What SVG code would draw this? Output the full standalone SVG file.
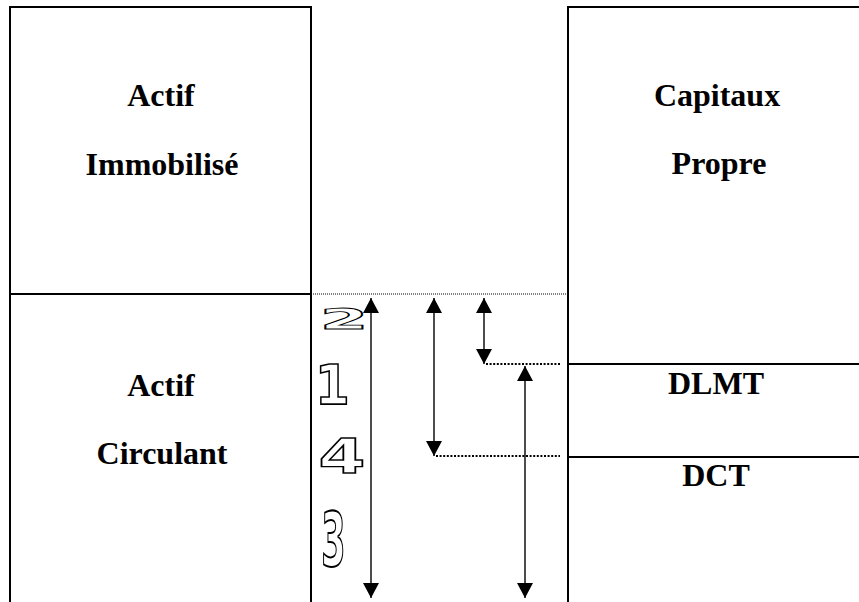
<svg xmlns="http://www.w3.org/2000/svg" width="859" height="602" viewBox="0 0 859 602">
  <style>
    .frame { stroke: #000; stroke-width: 2; fill: none; }
    .label { font-family: "Liberation Serif", "Times New Roman", serif; font-weight: bold; font-size: 32px; fill: #000; text-anchor: middle; }
    .arrow { stroke: #000; stroke-width: 1.4; fill: none; marker-start: url(#head); marker-end: url(#head); }
    .dots { stroke: #000; stroke-width: 2; stroke-dasharray: 2 1.6; fill: none; }
    .dots-fine { stroke: #000; stroke-width: 1; stroke-dasharray: 1 1; fill: none; }
    .digit { font-family: "DejaVu Sans", "Liberation Sans", sans-serif; font-weight: bold; font-size: 50px; fill: #fff; stroke: #000; stroke-width: 1.6; text-anchor: middle; vector-effect: non-scaling-stroke; }
  </style>
  <defs>
    <marker id="head" viewBox="0 0 15 16" refX="15" refY="8" markerWidth="15" markerHeight="16" markerUnits="userSpaceOnUse" orient="auto-start-reverse">
      <path d="M0,0 L15,8 L0,16 Z" fill="#000"/>
    </marker>
  </defs>
  <rect width="859" height="602" fill="#fff"/>

  <!-- Assets side -->
  <g id="actif-immobilise">
    <path class="frame" d="M10,602 V7 H311 V602 M10,294 H311"/>
    <text class="label" x="161" y="106">Actif</text>
    <text class="label" x="162" y="175">Immobilisé</text>
  </g>
  <g id="actif-circulant">
    <text class="label" x="161" y="396">Actif</text>
    <text class="label" x="162" y="464">Circulant</text>
  </g>

  <!-- Liabilities side -->
  <g id="capitaux-propre">
    <path class="frame" d="M568,602 V7 H859"/>
    <text class="label" x="717" y="106">Capitaux</text>
    <text class="label" x="719" y="174">Propre</text>
  </g>
  <g id="dlmt">
    <path class="frame" d="M568,364 H859"/>
    <text class="label" x="716" y="394">DLMT</text>
  </g>
  <g id="dct">
    <path class="frame" d="M568,457 H859"/>
    <text class="label" x="716" y="486">DCT</text>
  </g>

  <!-- Comparison arrows and guide lines -->
  <g id="connectors">
    <path class="dots-fine" d="M311,294 H568"/>
    <path class="dots" d="M486,364 H560"/>
    <path class="dots" d="M436,456 H560"/>
    <path class="arrow" d="M371,298 V598"/>
    <path class="arrow" d="M434,298 V456"/>
    <path class="arrow" d="M484,298 V364"/>
    <path class="arrow" d="M525,366 V598"/>
  </g>

  <!-- Outlined numbering -->
  <g id="numbers">
    <text class="digit" transform="translate(344,329) scale(1.4,0.56)">2</text>
    <text class="digit" transform="translate(332.5,404) scale(1.0,1.09)">1</text>
    <text class="digit" transform="translate(342,473) scale(1.35,0.95)">4</text>
    <text class="digit" transform="translate(333.5,566) scale(0.7,1.5)">3</text>
  </g>
</svg>
